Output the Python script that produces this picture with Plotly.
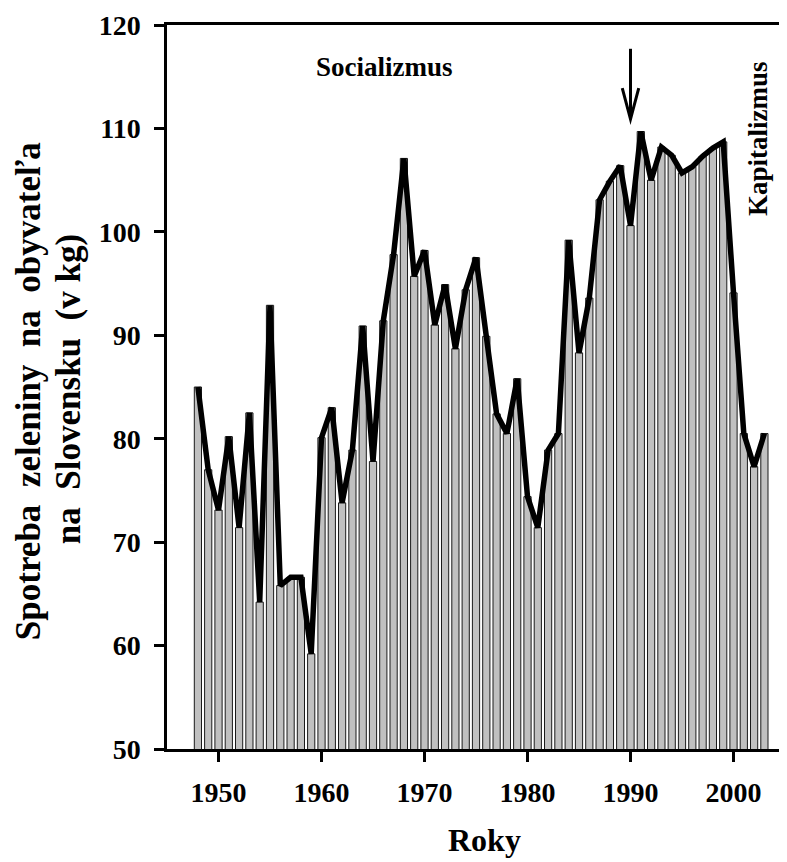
import plotly.graph_objects as go

# ---- data ----
years = list(range(1948, 2004))
consumption = [
    85.0, 77.0, 73.1, 80.2, 71.4, 82.5, 64.2, 92.9, 65.8, 66.6,   # 1948-1957
    66.6, 59.2, 80.1, 83.0, 73.8, 78.9, 90.9, 77.8, 91.4, 97.8,   # 1958-1967
    107.1, 95.7, 98.2, 91.0, 94.9, 88.7, 94.4, 97.5, 89.9, 82.4,  # 1968-1977
    80.5, 85.8, 74.4, 71.4, 78.9, 80.5, 99.2, 88.3, 93.6, 103.1,  # 1978-1987
    104.9, 106.4, 100.6, 109.7, 105.0, 108.2, 107.4, 105.7, 106.3, 107.3,  # 1988-1997
    108.1, 108.7, 94.1, 80.5, 77.3, 80.5,                          # 1998-2003
]
x_tick_vals = [1950, 1960, 1970, 1980, 1990, 2000]
y_tick_vals = [50, 60, 70, 80, 90, 100, 110, 120]

label_socialism = "Socializmus"
label_capitalism = "Kapitalizmus"
x_title = "Roky"
y_title_1 = "Spotreba  zeleniny  na  obyvateľa"
y_title_2 = "na  Slovensku  (v kg)"
arrow_year = 1990

FONT = "Liberation Serif, Times New Roman, serif"

# figure geometry (page has an 8px body margin)
W, H = 779, 854
ML, MR, MT, MB = 159, 2, 13, 113.3
PW = W - ML - MR
PH = H - MT - MB


def px_to_paper_x(px):
    return (px - 8 - ML) / PW


def px_to_paper_y(py):
    return 1 - (py - 8 - MT) / PH


fig = go.Figure()
fig.add_trace(go.Bar(
    x=years, y=consumption,
    marker=dict(color="#c0c0c0", line=dict(color="#1a1a1a", width=1)),
    showlegend=False,
))
fig.add_trace(go.Scatter(
    x=years, y=consumption, mode="lines",
    line=dict(color="black", width=5.5),
    showlegend=False,
))

# arrow at 1990
fig.add_shape(type="line", xref="x", yref="y",
              x0=arrow_year, x1=arrow_year, y0=117.7, y1=110.9,
              line=dict(color="black", width=3))
fig.add_shape(type="path", xref="x", yref="y",
              path=f"M {arrow_year-0.8},113.9 L {arrow_year},110.9 L {arrow_year+0.8},113.9",
              line=dict(color="black", width=3))

fig.add_annotation(x=1966.1, y=115.9, xref="x", yref="y", text=f"<b>{label_socialism}</b>",
                   xanchor="center", yanchor="middle",
                   showarrow=False, font=dict(family=FONT, size=27, color="black"))
fig.add_annotation(x=2002.4, y=109.0, xref="x", yref="y", text=f"<b>{label_capitalism}</b>",
                   xanchor="center", yanchor="middle",
                   textangle=-90, showarrow=False, font=dict(family=FONT, size=27, color="black"))

# axis titles as annotations for exact placement
fig.add_annotation(x=px_to_paper_x(28), y=px_to_paper_y(389), xref="paper", yref="paper",
                   xanchor="center", yanchor="middle",
                   text=f"<b>{y_title_1}</b>", textangle=-90, showarrow=False,
                   font=dict(family=FONT, size=35, color="black"))
fig.add_annotation(x=px_to_paper_x(68), y=px_to_paper_y(387), xref="paper", yref="paper",
                   xanchor="center", yanchor="middle",
                   text=f"<b>{y_title_2}</b>", textangle=-90, showarrow=False,
                   font=dict(family=FONT, size=35, color="black"))
fig.add_annotation(x=px_to_paper_x(484), y=px_to_paper_y(840), xref="paper", yref="paper",
                   xanchor="center", yanchor="middle",
                   text=f"<b>{x_title}</b>", showarrow=False,
                   font=dict(family=FONT, size=32, color="black"))

fig.update_layout(
    width=W, height=H,
    margin=dict(l=ML, r=MR, t=MT, b=MB, pad=0),
    paper_bgcolor="white", plot_bgcolor="white",
    bargap=0.3,
    font=dict(family=FONT, color="black"),
)
fig.update_xaxes(
    range=[1945, 2005], tickvals=x_tick_vals,
    ticktext=[f"<b>{v}</b>" for v in x_tick_vals],
    ticks="outside", ticklen=10, tickwidth=2.5, tickcolor="black",
    showline=True, linecolor="black", linewidth=2.5, mirror=True,
    showgrid=False, zeroline=False,
    tickfont=dict(family=FONT, size=28, color="black"),
    ticklabelstandoff=7, ticklabeloverflow="allow",
)
fig.update_yaxes(
    range=[50, 120], tickvals=y_tick_vals,
    ticktext=[f"<b>{v}</b>" for v in y_tick_vals],
    ticks="outside", ticklen=10, tickwidth=2.5, tickcolor="black",
    showline=True, linecolor="black", linewidth=2.5,
    showgrid=False, zeroline=False,
    tickfont=dict(family=FONT, size=28, color="black"),
    ticklabelstandoff=8, ticklabeloverflow="allow",
)

fig.write_html("out.html")
